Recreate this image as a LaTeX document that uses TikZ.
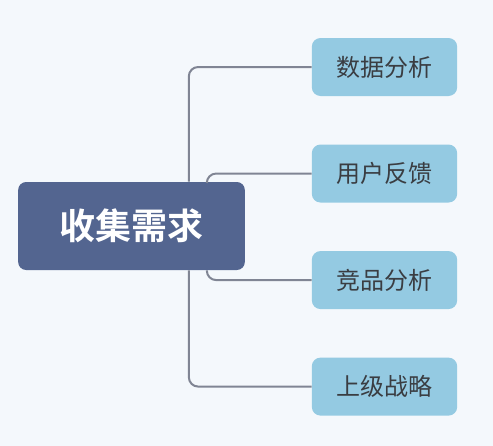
\documentclass[tikz,border=0pt]{standalone}
\usepackage{fontspec}
\usepackage{xcolor}
\usepackage{tikz}
\usetikzlibrary{positioning}
\newfontfamily\cjk{Noto Sans CJK SC}
\newfontfamily\cjkbold{Noto Sans CJK SC Bold}

\definecolor{bgpaper}{HTML}{F4F8FC}
\definecolor{rootblue}{HTML}{536590}
\definecolor{leafblue}{HTML}{94CAE2}
\definecolor{linkgray}{HTML}{808594}
\definecolor{leaftext}{HTML}{3A3D42}

\begin{document}
\begin{tikzpicture}[
    x=0.75pt, y=-0.75pt,
    node distance=36pt,
    root/.style={rectangle, rounded corners=6pt, fill=rootblue, text=white, minimum width=170pt, minimum height=66pt, font=\cjkbold\fontsize{27}{30}\selectfont, inner sep=0pt},
    leaf/.style={rectangle, rounded corners=6.5pt, fill=leafblue, text=leaftext, minimum width=109pt, minimum height=43.5pt, font=\cjk\fontsize{18}{20}\selectfont, inner sep=0pt},
    link/.style={draw=linkgray, line width=1.5pt, rounded corners=7pt},
]
    % Background
    \fill[bgpaper] (0,0) rectangle (493,446);

    % Root
    \node[root] (need) at (131.5,226) {收集需求};

    % Leaves
    \node[leaf] (data) at (384.5,67) {数据分析};
    \node[leaf, below=36pt of data] (user) {用户反馈};
    \node[leaf, below=36pt of user] (rival) {竞品分析};
    \node[leaf, below=36pt of rival] (boss) {上级战略};

    % Links
    \coordinate[xshift=43pt] (outerTop) at (need.north);
    \coordinate[xshift=56.5pt] (innerTop) at (need.north);
    \coordinate[xshift=56.5pt] (innerBot) at (need.south);
    \coordinate[xshift=43pt] (outerBot) at (need.south);
    \draw[link] (outerTop) |- (data.west);
    \draw[link] (innerTop) |- (user.west);
    \draw[link] (innerBot) |- (rival.west);
    \draw[link] (outerBot) |- (boss.west);

\end{tikzpicture}
\end{document}
